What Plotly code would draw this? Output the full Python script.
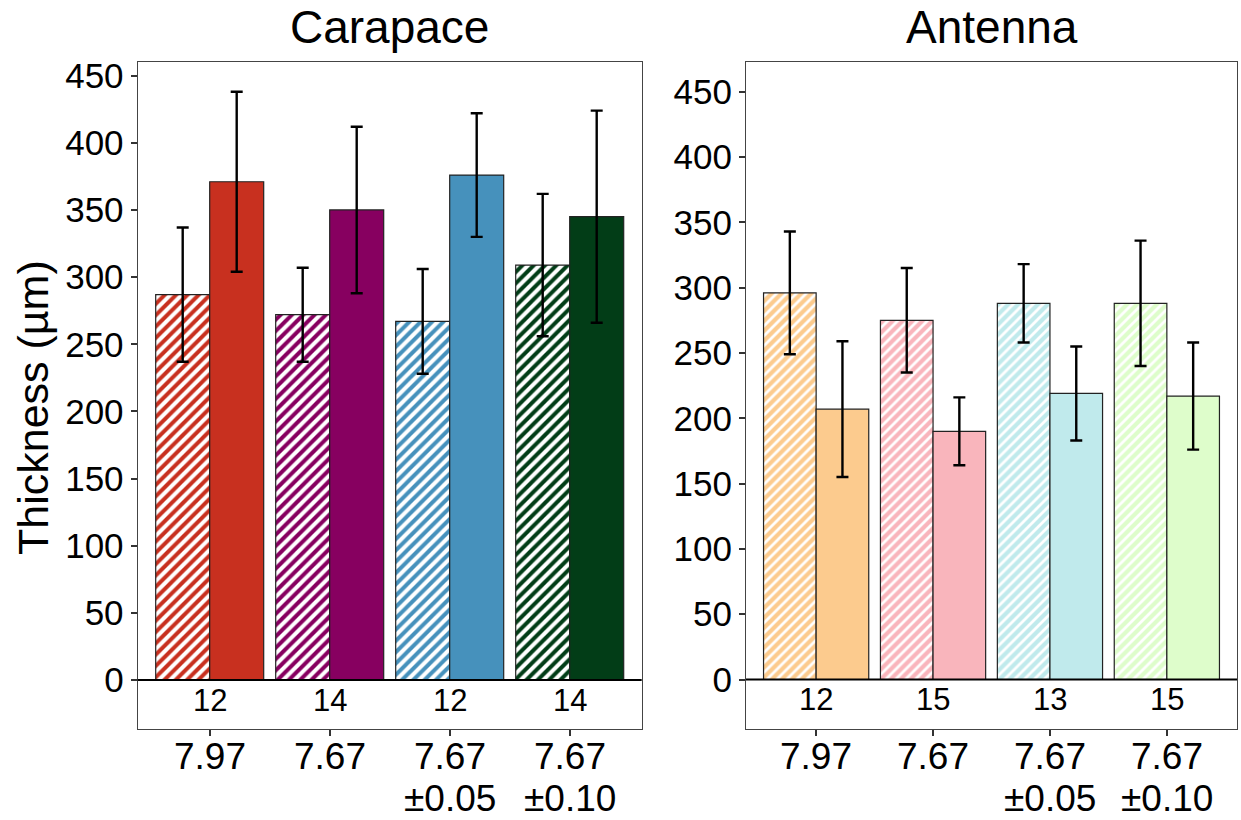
import plotly.graph_objects as go

# pH treatment groups (x categories): mean pH and fluctuation range
group_ph = ["7.97", "7.67", "7.67", "7.67"]
group_range = ["", "", "±0.05", "±0.10"]

# Carapace thickness (µm): mean and SD for the two sample sets per group
carapace_hatched = [287, 272, 267, 309]
carapace_hatched_sd = [50, 35, 39, 53]
carapace_solid = [371, 350, 376, 345]
carapace_solid_sd = [67, 62, 46, 79]
carapace_n = [12, 14, 12, 14]

# Antenna thickness (µm)
antenna_hatched = [296, 275, 288, 288]
antenna_hatched_sd = [47, 40, 30, 48]
antenna_solid = [207, 190, 219, 217]
antenna_solid_sd = [52, 26, 36, 41]
antenna_n = [12, 15, 13, 15]

carapace_colors = ["#C8301F", "#870060", "#4691BC", "#023D17"]
antenna_colors = ["#FCCB8E", "#F9B5BC", "#C0EAEC", "#DEFDCB"]

y_ticks = [0, 50, 100, 150, 200, 250, 300, 350, 400, 450]

FONT = "Liberation Sans, Arial, sans-serif"
W, H = 1241, 820
box_top, box_bottom = 61.7, 728.5
panels = [
    dict(name="Carapace", xa="x", ya="y", xdom=(137.7, 641.7), yrange=[-36.1, 460.4],
         hatched=carapace_hatched, hatched_sd=carapace_hatched_sd,
         solid=carapace_solid, solid_sd=carapace_solid_sd, n=carapace_n,
         colors=carapace_colors, pat_size=8, pat_solid=0.5),
    dict(name="Antenna", xa="x2", ya="y2", xdom=(746.0, 1237.0), yrange=[-37.5, 473.0],
         hatched=antenna_hatched, hatched_sd=antenna_hatched_sd,
         solid=antenna_solid, solid_sd=antenna_solid_sd, n=antenna_n,
         colors=antenna_colors, pat_size=7, pat_solid=0.6),
]

fig = go.Figure()
annotations = []
shapes = []

for p in panels:
    pos = list(range(len(group_ph)))
    err_style = dict(type="data", color="black", thickness=2.4, width=6, visible=True)
    # hatched bars: coloured diagonal stripes on white
    fig.add_trace(go.Bar(
        x=pos, y=p["hatched"], xaxis=p["xa"], yaxis=p["ya"], offsetgroup="a",
        marker=dict(color="white", line=dict(color="#222222", width=1.2),
                    pattern=dict(shape="/", fgcolor=p["colors"], bgcolor="white",
                                 size=p["pat_size"], solidity=p["pat_solid"],
                                 fillmode="replace")),
        error_y=dict(array=p["hatched_sd"], **err_style),
        showlegend=False,
    ))
    fig.add_trace(go.Bar(
        x=pos, y=p["solid"], xaxis=p["xa"], yaxis=p["ya"], offsetgroup="b",
        marker=dict(color=p["colors"], line=dict(color="#222222", width=1.2)),
        error_y=dict(array=p["solid_sd"], **err_style),
        showlegend=False,
    ))
    # sample sizes written under the zero line
    for i, n in enumerate(p["n"]):
        annotations.append(dict(x=i, y=-15.5, xref=p["xa"], yref=p["ya"], text=str(n),
                                showarrow=False, yanchor="middle",
                                font=dict(family=FONT, size=31, color="black")))
    # group labels below the panel: pH on the first line, range on the second
    for i, (ph, r) in enumerate(zip(group_ph, group_range)):
        annotations.append(dict(x=i, y=1 - 756 / H, xref=p["xa"], yref="paper",
                                text=ph, showarrow=False, yanchor="middle",
                                font=dict(family=FONT, size=37, color="black")))
        if r:
            annotations.append(dict(x=i, y=1 - 798 / H, xref=p["xa"], yref="paper",
                                    text=r, showarrow=False, yanchor="middle",
                                    font=dict(family=FONT, size=37, color="black")))
    # baseline at zero
    shapes.append(dict(type="line", xref=p["xa"] + " domain", yref=p["ya"],
                       x0=0, x1=1, y0=0, y1=0, line=dict(color="black", width=2)))
    # panel title
    annotations.append(dict(x=(p["xdom"][0] + p["xdom"][1]) / 2 / W, y=1 - 27 / H,
                            xref="paper", yref="paper", text=p["name"], showarrow=False,
                            xanchor="center", yanchor="middle",
                            font=dict(family=FONT, size=46, color="black")))

annotations.append(dict(x=33 / W, y=1 - 408 / H, xref="paper", yref="paper",
                        text="Thickness (µm)", textangle=-90, showarrow=False,
                        xanchor="center", yanchor="middle",
                        font=dict(family=FONT, size=43, color="black")))

ydom = [1 - box_bottom / H, 1 - box_top / H]
axis_common = dict(showgrid=False, zeroline=False, showline=True, mirror=True,
                   linecolor="#444444", linewidth=1.2, ticks="outside", ticklen=6,
                   tickwidth=1.5, tickcolor="#333333", automargin=False)

layout = dict(
    width=W, height=H, autosize=False,
    margin=dict(l=0, r=0, t=0, b=0),
    paper_bgcolor="white", plot_bgcolor="white",
    barmode="group", bargap=0.1, bargroupgap=0,
    annotations=annotations, shapes=shapes,
)
for k, p in enumerate(panels):
    sfx = "" if k == 0 else "2"
    layout["xaxis" + sfx] = dict(
        domain=[p["xdom"][0] / W, p["xdom"][1] / W], range=[-0.6, 3.6],
        tickvals=list(range(len(group_ph))), showticklabels=False,
        anchor="y" + sfx, **axis_common)
    layout["yaxis" + sfx] = dict(
        domain=ydom, range=p["yrange"], tickvals=y_ticks,
        tickfont=dict(family=FONT, size=35, color="black"),
        anchor="x" + sfx, **axis_common)

fig.update_layout(**layout)
fig.write_html("out.html")
